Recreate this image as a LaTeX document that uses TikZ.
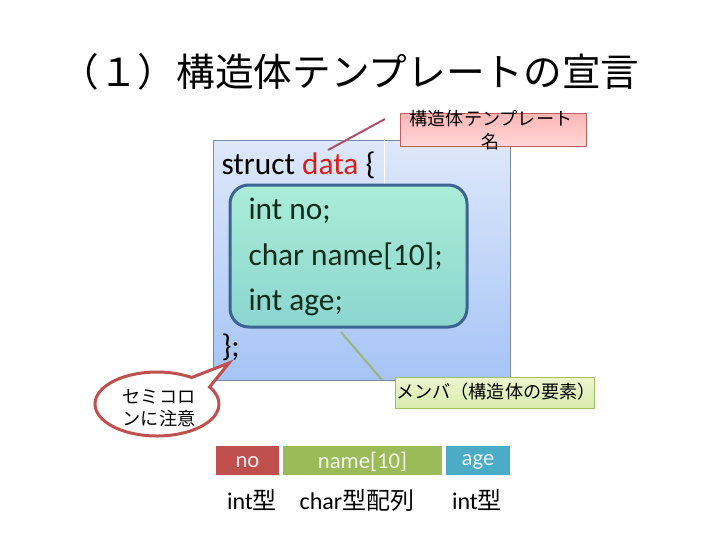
\documentclass[tikz,border=0pt]{standalone}
\usepackage{fontspec}
\setmainfont{Carlito}
\newfontfamily\jp{Noto Sans CJK JP}

\definecolor{panelTop}{RGB}{222,232,250}
\definecolor{panelBot}{RGB}{166,196,246}
\definecolor{panelLine}{RGB}{120,140,170}
\definecolor{memTop}{RGB}{170,236,214}
\definecolor{memBot}{RGB}{140,214,208}
\definecolor{memLine}{RGB}{59,100,146}
\definecolor{memText}{RGB}{16,44,28}
\definecolor{nameRed}{RGB}{218,30,30}
\definecolor{pinkTop}{RGB}{255,182,182}
\definecolor{pinkBot}{RGB}{255,214,214}
\definecolor{pinkLine}{RGB}{192,96,96}
\definecolor{pinkLead}{RGB}{176,80,110}
\definecolor{limeTop}{RGB}{236,246,206}
\definecolor{limeBot}{RGB}{216,236,174}
\definecolor{limeLine}{RGB}{160,192,100}
\definecolor{limeLead}{RGB}{150,184,120}
\definecolor{bubbleLine}{RGB}{192,80,77}
\definecolor{cellRed}{RGB}{192,80,77}
\definecolor{cellGreen}{RGB}{155,187,89}
\definecolor{cellBlue}{RGB}{75,172,198}

\tikzset{every picture/.style={line width=0.75pt}}
\tikzset{
	code/.style={anchor=base west, inner sep=0pt, font=\fontsize{23.5}{28}\selectfont},
	tag/.style={align=center, inner sep=0pt, font=\jp\fontsize{13.6}{17}\selectfont},
	cell/.style={text=white, text opacity=0.88, inner sep=0pt, font=\fontsize{17}{20}\selectfont},
	under/.style={anchor=base, inner sep=0pt, font=\fontsize{18}{22}\selectfont}}

\begin{document}
\begin{tikzpicture}[x=0.75pt,y=0.75pt,yscale=-1,xscale=1]
	\path (0,0) rectangle (720,540); %set diagram size

	% Title
	\node (title) at (350,72) {\jp\fontsize{29}{35}\selectfont （１）構造体テンプレートの宣言};

	%Shape: Rectangle (struct panel)
	\shade [top color=panelTop, bottom color=panelBot] (213,140) rectangle (510,380);
	\draw [color=panelLine, line width=0.6] (213,140) rectangle (510,380);
	\draw [white, line width=0.6] (384,140) -- (384,207);
	%Shape: Rounded Rectangle (members)
	\draw [rounded corners=14pt, top color=memTop, bottom color=memBot, draw=memLine, line width=2.25] (230,185) rectangle (467,327);

	% Code lines
	\node [code] (head) at (221,174) {struct \textcolor{nameRed}{data} \{};
	\node [code, text=memText] (mno) at (248,219.5) {int no;};
	\node [code, text=memText] (mname) at (248,265) {char name[10];};
	\node [code, text=memText] (mage) at (248,310.5) {int age;};
	\node [code] (tail) at (221,356) {\};};

	%Shape: Callout (template name)
	\draw [draw=pinkLine, line width=0.6, top color=pinkTop, bottom color=pinkBot] (400,113) rectangle (586,146);
	\node [tag] (tname) at (491,130) {構造体テンプレート\\名};
	\coordinate (tfoot) at (385,119);
	\coordinate (ttip) at (328,150);
	\draw [pinkLead, line width=1.5] (tfoot) -- (ttip);

	%Shape: Callout (members)
	\draw [draw=limeLine, line width=0.6, top color=limeTop, bottom color=limeBot] (395,377) rectangle (594,408);
	\node [tag] (mlabel) at (496,392) {メンバ（構造体の要素）};
	\coordinate (mfoot) at (382,380);
	\coordinate (mtip) at (341,332);
	\draw [limeLead, line width=1.5] (mfoot) -- (mtip);

	%Shape: Speech bubble
	\coordinate (btip) at (229,363);
	\draw [fill=white, draw=bubbleLine, line width=2.25] ([shift={(-32:62 and 32)}]157,404) -- (btip) -- ([shift={(-56:62 and 32)}]157,404) arc [start angle=-56, end angle=-392, x radius=62, y radius=32] -- cycle;
	\node [tag] (warn) at (159,408) {セミコロ\\ンに注意};

	%Shape: Memory cells
	\fill [cellRed] (216,446) rectangle (279,475);
	\fill [cellGreen] (283,446) rectangle (442,475);
	\fill [cellBlue] (446,446) rectangle (510,475);
	\node [cell] (cno) at (247.5,462) {no};
	\node [cell] (cname) at (362.5,462) {name[10]};
	\node [cell] (cage) at (478,462) {age};

	% Types
	\node [under] (tno) at (252,509) {int{\jp 型}};
	\node [under] (tname2) at (357,509) {char{\jp 型配列}};
	\node [under] (tage) at (477,509) {int{\jp 型}};
\end{tikzpicture}
\end{document}
